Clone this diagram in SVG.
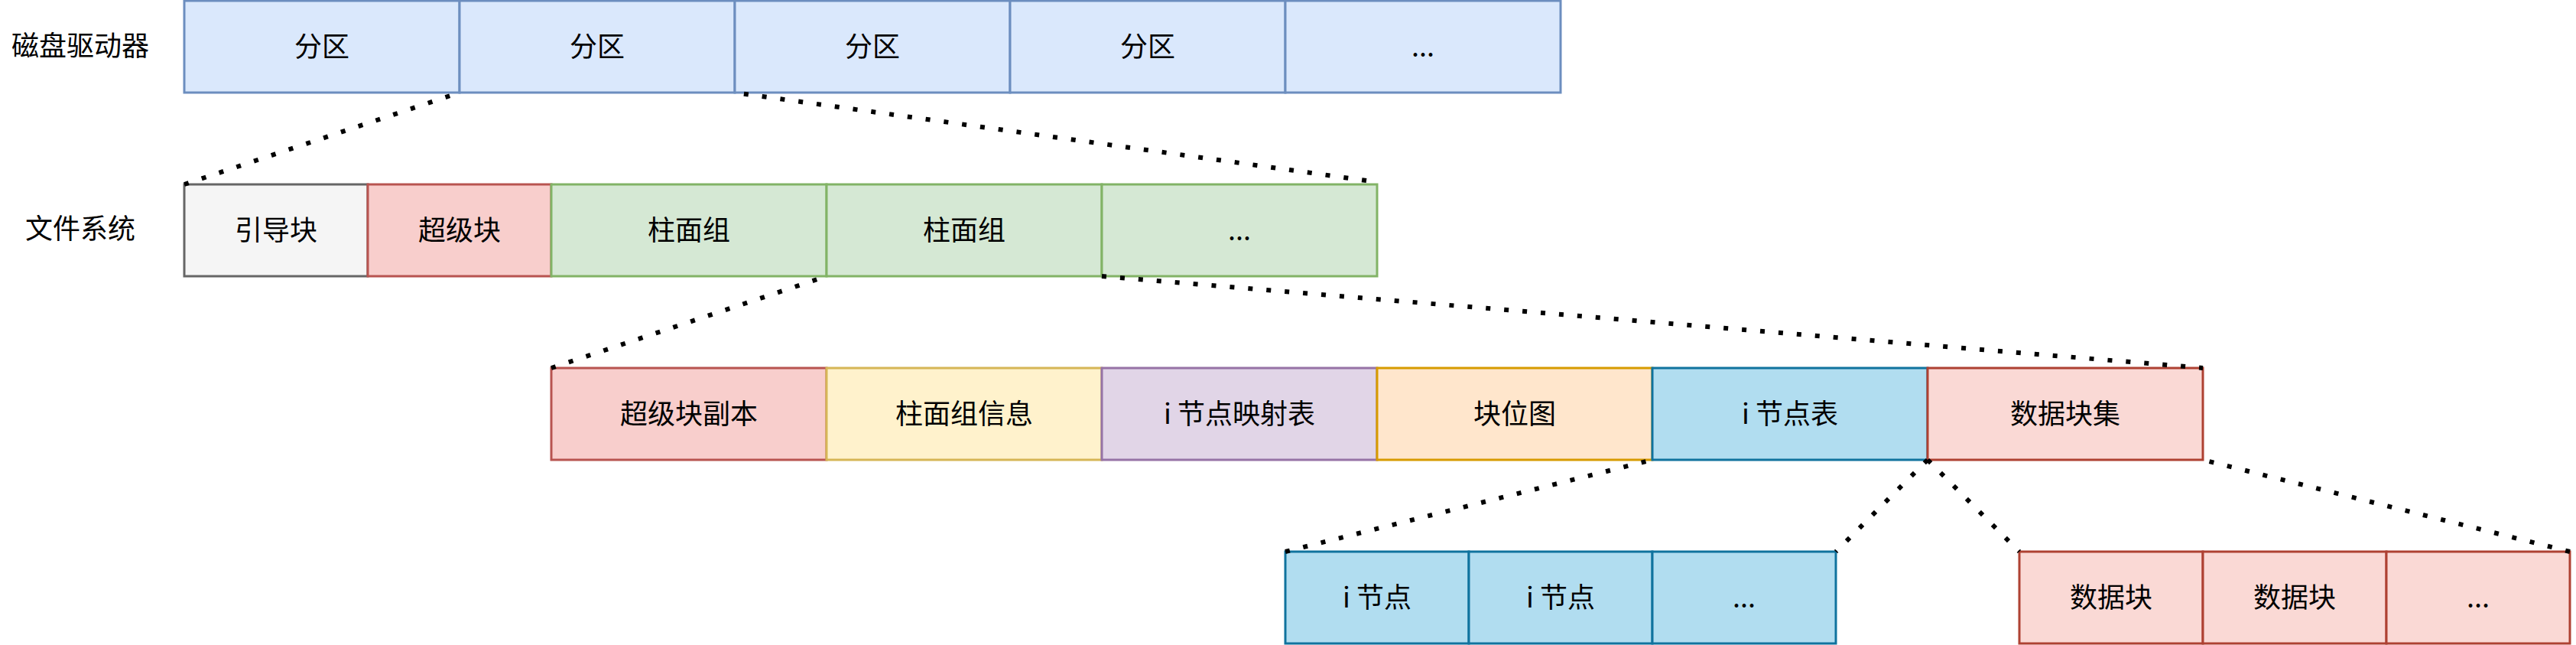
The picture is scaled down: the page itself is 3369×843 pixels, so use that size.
<svg xmlns="http://www.w3.org/2000/svg" width="3369" height="843" viewBox="0 0 3369 843">
<style>
text{font-family:"Noto Sans CJK SC","Noto Sans",sans-serif;font-size:36px;fill:#000;text-anchor:middle}
rect{stroke-width:3}
.blue{fill:#dae8fc;stroke:#6c8ebf}
.gray{fill:#f5f5f5;stroke:#666666}
.red{fill:#f8cecc;stroke:#b85450}
.green{fill:#d5e8d4;stroke:#82b366}
.yellow{fill:#fff2cc;stroke:#d6b656}
.purple{fill:#e1d5e7;stroke:#9673a6}
.orange{fill:#ffe6cc;stroke:#d79b00}
.cyan{fill:#b1ddf0;stroke:#10739e}
.pink{fill:#fad9d5;stroke:#ae4132}
.dot{fill:none;stroke:#000;stroke-width:6;stroke-dasharray:6 18}
</style>
<rect width="3369" height="843" fill="#ffffff" style="stroke:none"/>
<g id="label-disk"><text x="105" y="73">磁盘驱动器</text></g>
<g id="label-fs"><text x="105" y="312">文件系统</text></g>

<g id="p1"><rect class="blue" x="241" y="1" width="360" height="120"/><text x="421" y="74">分区</text></g>
<g id="p2"><rect class="blue" x="601" y="1" width="360" height="120"/><text x="781" y="74">分区</text></g>
<g id="p3"><rect class="blue" x="961" y="1" width="360" height="120"/><text x="1141" y="74">分区</text></g>
<g id="p4"><rect class="blue" x="1321" y="1" width="360" height="120"/><text x="1501" y="74">分区</text></g>
<g id="p5"><rect class="blue" x="1681" y="1" width="360" height="120"/><text x="1861" y="74">...</text></g>

<g id="boot"><rect class="gray" x="241" y="241" width="240" height="120"/><text x="361" y="314">引导块</text></g>
<g id="super"><rect class="red" x="481" y="241" width="240" height="120"/><text x="601" y="314">超级块</text></g>
<g id="cg1"><rect class="green" x="721" y="241" width="360" height="120"/><text x="901" y="314">柱面组</text></g>
<g id="cg2"><rect class="green" x="1081" y="241" width="360" height="120"/><text x="1261" y="314">柱面组</text></g>
<g id="cg3"><rect class="green" x="1441" y="241" width="360" height="120"/><text x="1621" y="314">...</text></g>

<g id="sbcopy"><rect class="red" x="721" y="481" width="360" height="120"/><text x="901" y="554">超级块副本</text></g>
<g id="cginfo"><rect class="yellow" x="1081" y="481" width="360" height="120"/><text x="1261" y="554">柱面组信息</text></g>
<g id="imap"><rect class="purple" x="1441" y="481" width="360" height="120"/><text x="1621" y="554">i 节点映射表</text></g>
<g id="bmap"><rect class="orange" x="1801" y="481" width="360" height="120"/><text x="1981" y="554">块位图</text></g>
<g id="itable"><rect class="cyan" x="2161" y="481" width="360" height="120"/><text x="2341" y="554">i 节点表</text></g>
<g id="dataset"><rect class="pink" x="2521" y="481" width="360" height="120"/><text x="2701" y="554">数据块集</text></g>

<g id="inode1"><rect class="cyan" x="1681" y="721" width="240" height="120"/><text x="1801" y="794">i 节点</text></g>
<g id="inode2"><rect class="cyan" x="1921" y="721" width="240" height="120"/><text x="2041" y="794">i 节点</text></g>
<g id="inode3"><rect class="cyan" x="2161" y="721" width="240" height="120"/><text x="2281" y="794">...</text></g>

<g id="db1"><rect class="pink" x="2641" y="721" width="240" height="120"/><text x="2761" y="794">数据块</text></g>
<g id="db2"><rect class="pink" x="2881" y="721" width="240" height="120"/><text x="3001" y="794">数据块</text></g>
<g id="db3"><rect class="pink" x="3121" y="721" width="240" height="120"/><text x="3241" y="794">...</text></g>

<g id="connectors">
<path class="dot" d="M241 241 L601 121"/>
<path class="dot" d="M961 121 L1801 238" stroke-dashoffset="-12"/>
<path class="dot" d="M721 481 L1081 361"/>
<path class="dot" d="M1441 361 L2881 481"/>
<path class="dot" d="M1681 721 L2161 601"/>
<path class="dot" d="M2521 601 L2401 721"/>
<path class="dot" d="M2521 601 L2641 721"/>
<path class="dot" d="M3361 721 L2881 601"/>
</g>
</svg>
